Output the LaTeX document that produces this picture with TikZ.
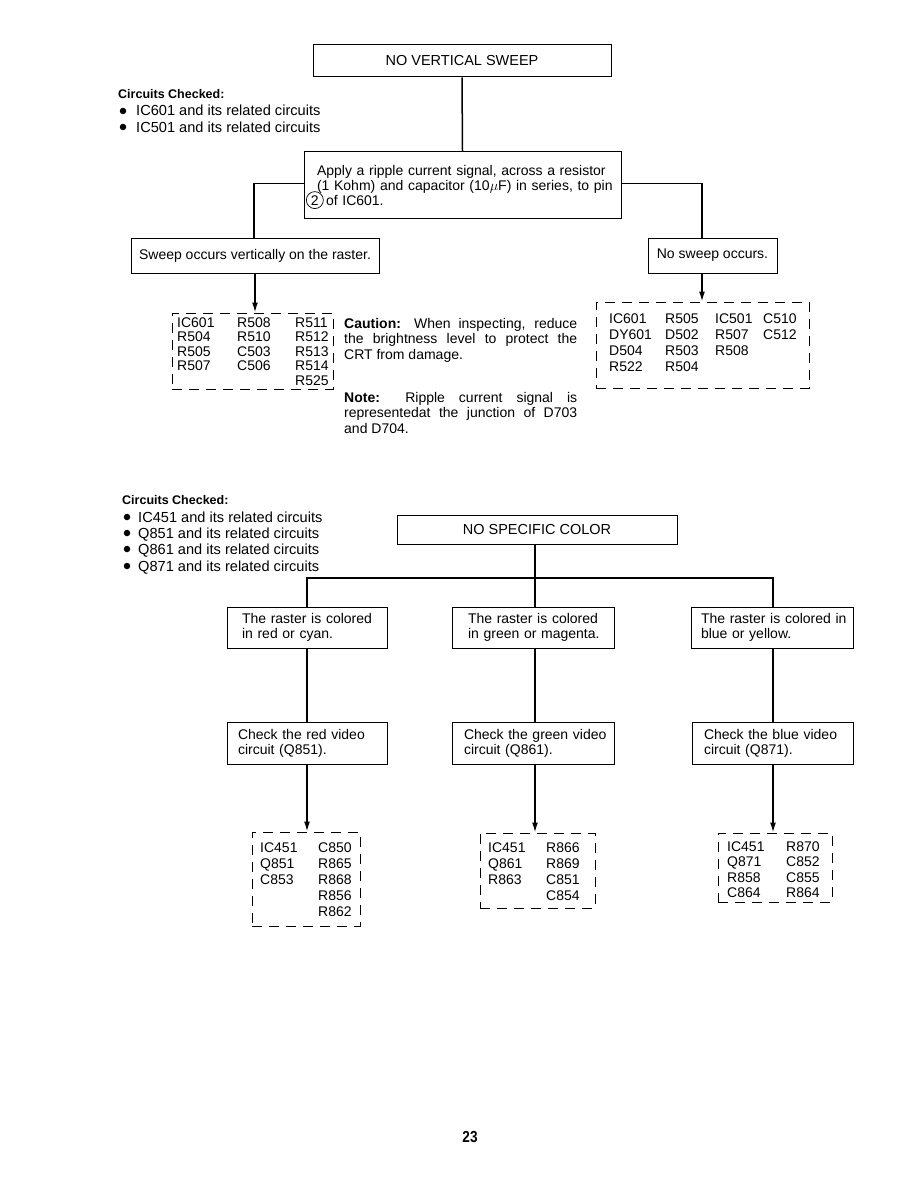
\documentclass[tikz,border=0pt]{standalone}
\usepackage{fontspec}
\setmainfont{Liberation Sans}
\usetikzlibrary{arrows.meta}
\newcommand\circnum[1]{\raisebox{0pt}[0pt][0pt]{\tikz[baseline=(cn.base)]\node[draw,circle,line width=0.7pt,inner sep=0pt,minimum size=17pt,font=\fontsize{14}{15}\selectfont](cn){#1};}}
\begin{document}
\begin{tikzpicture}[x=1pt,y=-1pt,
  every node/.style={font=\fontsize{14}{15}\selectfont},
  box/.style={draw,line width=1pt,inner sep=0pt,align=center},
  lbox/.style={draw,line width=1pt,inner ysep=0pt,align=left},
  dbox/.style={draw,line width=1pt,dash pattern=on 10pt off 7pt,inner sep=0pt},
  conn/.style={line width=1.5pt},
  arr/.style={line width=1.5pt,-{Latex[length=10pt,width=6pt]}},
  lst/.style={anchor=base west,inner sep=0pt,align=left},
  blst/.style={anchor=base west,inner sep=0pt,align=left,font=\fontsize{14.6}{15}\selectfont},
  hdr/.style={anchor=base west,inner sep=0pt,font=\fontsize{12.5}{14}\selectfont\bfseries},
  bul/.style={circle,fill,inner sep=0pt,minimum size=6.5pt}
]
\useasboundingbox[fill=white] (0,0) rectangle (918,1188);

% ---------------- upper chart ----------------
\node[box,minimum width=298,minimum height=32,font=\fontsize{14.5}{15}\selectfont] (b1) at (462,61) {NO VERTICAL SWEEP};

\node[hdr] (cc1) at (118,99) {Circuits Checked:};
\node[bul] (u1) at (123,111) {};
\node[blst] (t1) at (136,116) {IC601 and its related circuits};
\node[bul] (u2) at (123,127) {};
\node[blst] (t2) at (136,132) {IC501 and its related circuits};

\node[lbox,minimum width=317,minimum height=67,inner xsep=13pt,text width=291] (b2) at (462.5,185)
  {\mbox{Apply a ripple current signal, across a resistor}\\\mbox{(1 Kohm) and capacitor (10$\mu$F) in series, to pin}\\\mbox{\hspace*{-11pt}\circnum{2}\,of IC601.}};

\node[box,minimum width=248,minimum height=35] (b3) at (255,255.5) {Sweep occurs vertically on the raster.};
\node[box,minimum width=129,minimum height=35] (b4) at (712.5,255.5) {No sweep occurs.};

\draw[conn] (b1.south) -- (b2.north);
\coordinate (jl) at (254,183.5);
\coordinate (jr) at (702,183.5);
\draw[conn] (b2.west |- jl) -- (jl) -- (jl |- b3.north);
\draw[conn] (b2.east |- jr) -- (jr) -- (jr |- b4.north);

\node[dbox,minimum width=161,minimum height=76] (dA) at (252.5,351) {};
\node[lst,font=\fontsize{14}{14.6}\selectfont] (cA) at (177,327) {\begin{tabular}[t]{@{}p{60pt}@{}p{58pt}@{}l@{}}
IC601 & R508 & R511\\ R504 & R510 & R512\\ R505 & C503 & R513\\ R507 & C506 & R514\\ & & R525\end{tabular}};
\draw[arr] (b3.south) -- (b3.south |- dA.north);

\node[dbox,minimum width=213,minimum height=86] (dB) at (702.5,345) {};
\node[lst,font=\fontsize{14}{16}\selectfont] (cB) at (609,323) {\begin{tabular}[t]{@{}p{56pt}@{}p{50pt}@{}p{48pt}@{}l@{}}
IC601 & R505 & IC501 & C510\\ DY601 & D502 & R507 & C512\\ D504 & R503 & R508 & \\ R522 & R504 & & \end{tabular}};
\draw[arr] (jr |- b4.south) -- (jr |- dB.north);

\node[anchor=base west,inner sep=0pt,text width=233,align=justify,font=\fontsize{14}{15.5}\selectfont] (caut) at (344,328)
  {\textbf{Caution:} When inspecting, reduce\linebreak the brightness level to protect the\linebreak CRT from damage.};
\node[anchor=base west,inner sep=0pt,text width=233,align=justify,font=\fontsize{14}{15.5}\selectfont] (note) at (344,402)
  {\textbf{Note:} Ripple current signal is\linebreak representedat the junction of D703\linebreak and D704.};

% ---------------- lower chart ----------------
\node[hdr] (cc2) at (122,504) {Circuits Checked:};
\node[bul] (v1) at (127,517) {};
\node[blst] (s1) at (138,522) {IC451 and its related circuits};
\node[bul] (v2) at (127,533) {};
\node[blst] (s2) at (138,538) {Q851 and its related circuits};
\node[bul] (v3) at (127,549) {};
\node[blst] (s3) at (138,554) {Q861 and its related circuits};
\node[bul] (v4) at (127,566) {};
\node[blst] (s4) at (138,571) {Q871 and its related circuits};

\node[box,minimum width=280,minimum height=29,font=\fontsize{14.5}{15}\selectfont] (b5) at (537,529.5) {NO SPECIFIC COLOR};

\node[lbox,minimum width=160,minimum height=41,inner xsep=15pt,text width=130] (b6) at (307,627.5) {\mbox{The raster is colored}\\\mbox{in red or cyan.}};
\node[lbox,minimum width=162,minimum height=41,inner xsep=16pt,text width=130] (b7) at (533,627.5) {\mbox{The raster is colored}\\\mbox{in green or magenta.}};
\node[lbox,minimum width=162,minimum height=41,inner xsep=10pt,text width=142] (b8) at (772,627.5) {\mbox{The raster is colored in}\\\mbox{blue or yellow.}};

\node[lbox,minimum width=160,minimum height=42,inner xsep=11pt,text width=138] (b9) at (307,743) {\mbox{Check the red video}\\\mbox{circuit (Q851).}};
\node[lbox,minimum width=162,minimum height=42,inner xsep=12pt,text width=138] (b10) at (533,743) {\mbox{Check the green video}\\\mbox{circuit (Q861).}};
\node[lbox,minimum width=161,minimum height=42,inner xsep=12pt,text width=137] (b11) at (772.5,743) {\mbox{Check the blue video}\\\mbox{circuit (Q871).}};

\coordinate (bm) at (535,578);
\coordinate (bl) at (307,578);
\coordinate (br) at (773,578);
\draw[conn] (bm |- b5.south) -- (bm);
\draw[conn] (bl |- b6.north) -- (bl) -- (br) -- (br |- b8.north);
\draw[conn] (bm) -- (bm |- b7.north);
\draw[conn] (bl |- b6.south) -- (bl |- b9.north);
\draw[conn] (bm |- b7.south) -- (bm |- b10.north);
\draw[conn] (br |- b8.south) -- (br |- b11.north);

\node[dbox,minimum width=108,minimum height=94] (dC) at (306,879) {};
\node[lst,font=\fontsize{14}{16}\selectfont] (cC) at (260,852) {\begin{tabular}[t]{@{}p{58pt}@{}l@{}}
IC451 & C850\\ Q851 & R865\\ C853 & R868\\ & R856\\ & R862\end{tabular}};
\node[dbox,minimum width=115,minimum height=75] (dD) at (537.5,870.5) {};
\node[lst,font=\fontsize{14}{16}\selectfont] (cD) at (488,852) {\begin{tabular}[t]{@{}p{58pt}@{}l@{}}
IC451 & R866\\ Q861 & R869\\ R863 & C851\\ & C854\end{tabular}};
\node[dbox,minimum width=114,minimum height=69] (dE) at (775,867.5) {};
\node[lst,font=\fontsize{14}{15.5}\selectfont] (cE) at (727,851) {\begin{tabular}[t]{@{}p{59pt}@{}l@{}}
IC451 & R870\\ Q871 & C852\\ R858 & C855\\ C864 & R864\end{tabular}};

\draw[arr] (bl |- b9.south) -- (bl |- dC.north);
\draw[arr] (bm |- b10.south) -- (bm |- dD.north);
\draw[arr] (br |- b11.south) -- (br |- dE.north);

\node[inner sep=0pt,font=\fontsize{16}{16}\selectfont\bfseries,xscale=0.85] (pg) at (470,1137) {23};
\end{tikzpicture}
\end{document}
